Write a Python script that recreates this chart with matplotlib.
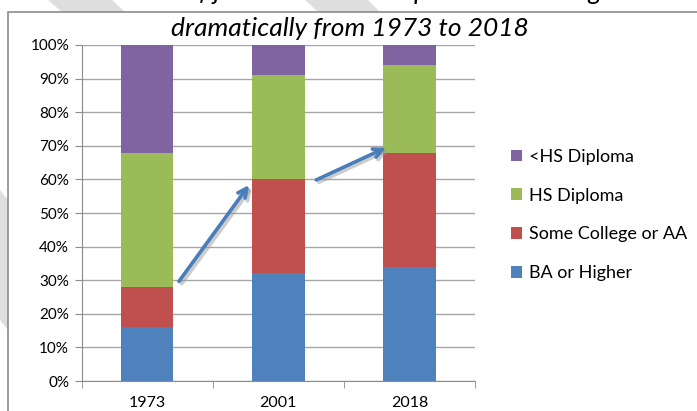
"""Stacked bar chart: education requirements of jobs, 1973 / 2001 / 2018."""
import matplotlib
matplotlib.use("Agg")
import matplotlib.pyplot as plt
from matplotlib.patches import Rectangle, Polygon

years = ["1973", "2001", "2018"]
ba_or_higher = [16, 32, 34]
some_college = [12, 28, 34]
hs_diploma = [40, 31, 26]
less_than_hs = [32, 9, 6]

series_names = ["BA or Higher", "Some College or AA", "HS Diploma", "<HS Diploma"]
series_values = [ba_or_higher, some_college, hs_diploma, less_than_hs]
series_colors = ["#4f81bd", "#c0504d", "#9bbb59", "#8064a2"]

# arrow start/end as (category position, percent)
arrows = [((0.23, 29), (0.79, 59)), ((1.27, 59.5), (1.84, 69.8))]

plt.rcParams["font.family"] = ["Lato", "DejaVu Sans"]

W, H = 697, 411
fig = plt.figure(figsize=(W / 100, H / 100), dpi=100)

# slide watermark stripes showing around the chart box
for pts in ([(48, 0), (112, 0), (125, 12), (62, 12)],
            [(305, 0), (368, 0), (380, 12), (318, 12)],
            [(0, 190), (8, 200), (8, 330), (0, 320)]):
    fig.patches.append(Polygon([(x / W, 1 - y / H) for x, y in pts],
                               closed=True, transform=fig.transFigure,
                               facecolor="#dedede", edgecolor="none", zorder=0))

# chart area border
fig.patches.append(Rectangle((8 / W, -0.1), 1.1, 1 - 12 / H + 0.1,
                             transform=fig.transFigure, facecolor="white",
                             edgecolor="#8c8c8c", linewidth=1.2, zorder=1))

ax = fig.add_axes([81.6 / W, 30 / H, (475 - 81.6) / W, (381 - 45) / H])
ax.set_zorder(2)
ax.patch.set_alpha(0)

x = range(len(years))
bottom = [0] * len(years)
for name, vals, color in zip(series_names, series_values, series_colors):
    ax.bar(x, vals, bottom=bottom, width=0.4, color=color, label=name, zorder=2)
    bottom = [b + v for b, v in zip(bottom, vals)]

for (x0, y0), (x1, y1) in arrows:
    ax.annotate("", xy=(x1 + 0.02, y1 - 0.6), xytext=(x0 + 0.02, y0 - 0.6),
                arrowprops=dict(arrowstyle="->", color="#9a9a9a", lw=3,
                                alpha=0.5, mutation_scale=16), zorder=3)
    ax.annotate("", xy=(x1, y1), xytext=(x0, y0),
                arrowprops=dict(arrowstyle="->", color="#4a7ebb", lw=2.6,
                                mutation_scale=16), zorder=4)

ax.set_xlim(-0.5, 2.5)
ax.set_ylim(0, 100)
ax.set_yticks(range(0, 101, 10))
ax.set_yticklabels([f"{v}%" for v in range(0, 101, 10)])
ax.set_xticks(list(x))
ax.set_xticklabels(years)
ax.set_xticks([-0.5, 0.5, 1.5, 2.5], minor=True)
ax.tick_params(axis="x", which="major", length=0, pad=11, labelsize=11.5)
ax.tick_params(axis="x", which="minor", length=5, color="#8c8c8c")
ax.tick_params(axis="y", length=5, color="#8c8c8c", labelsize=11, pad=4)
ax.grid(axis="y", color="#a6a6a6", linewidth=1, zorder=0)
ax.set_axisbelow(True)
for side in ("top", "right"):
    ax.spines[side].set_visible(False)
for side in ("left", "bottom"):
    ax.spines[side].set_color("#8c8c8c")

handles, labels = ax.get_legend_handles_labels()
ax.legend(handles[::-1], labels[::-1], loc="center left",
          bbox_to_anchor=(495 / W, 1 - 215 / H), bbox_transform=fig.transFigure,
          frameon=False, fontsize=13, handlelength=0.6, handleheight=0.6,
          handletextpad=0.4, labelspacing=1.27)

fig.text(350 / W, 1 - 28 / H, "dramatically from 1973 to 2018", ha="center",
         va="center", fontsize=19, style="italic", zorder=5)
fig.text(360 / W, 1 + 8 / H, "The mix of jobs' education requirements changed",
         ha="center", va="center", fontsize=19, style="italic", zorder=0.5)

fig.savefig("out.png", dpi=100)
